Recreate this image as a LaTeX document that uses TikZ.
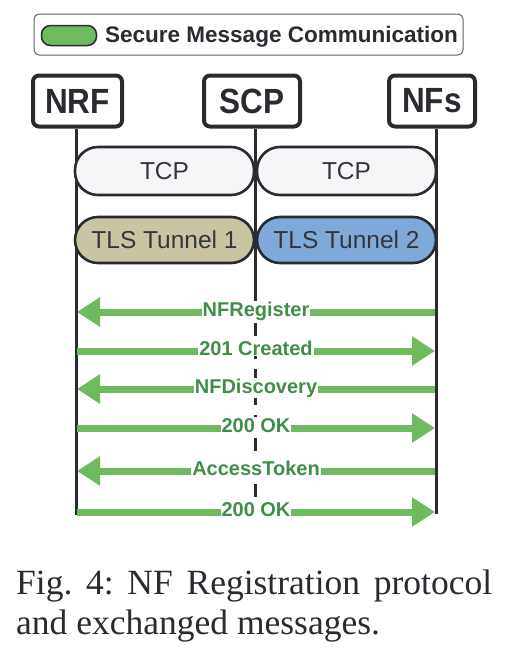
\documentclass[tikz,border=0pt]{standalone}
\usepackage{fontspec}
\setmainfont{Liberation Serif}
\newfontfamily\arialf{Liberation Sans}
\usetikzlibrary{arrows.meta}
\frenchspacing
\definecolor{ink}{HTML}{2A2B31}
\definecolor{msggreen}{HTML}{6DBB5E}
\definecolor{lblgreen}{HTML}{3F8F48}
\definecolor{tcpfill}{HTML}{F5F6F8}
\definecolor{tlsone}{HTML}{C9C5A4}
\definecolor{tlstwo}{HTML}{7EAAD9}
\tikzset{
  actor/.style={draw=ink, line width=4pt, rounded corners=6pt, fill=white, inner sep=0pt},
  lifeline/.style={draw=ink, line width=3pt},
  layerbox/.style={draw=ink, line width=2.6pt, rounded corners=23pt, inner sep=0pt},
  layertext/.style={font=\arialf\fontsize{24.5}{26}\selectfont, text=ink!95},
  msg/.style={draw=msggreen, line width=7pt, -{Triangle[length=23pt,width=28pt]}},
  msglabel/.style={font=\arialf\bfseries\fontsize{20}{22}\selectfont, text=lblgreen, fill=white, inner sep=1pt, anchor=base},
  actortext/.style={font=\arialf\bfseries\fontsize{35}{36}\selectfont, text=ink},
}
\begin{document}
\begin{tikzpicture}[x=1pt,y=-1pt]
\useasboundingbox (0,0) rectangle (528,656);
% legend
\draw[draw=ink!75, line width=1pt, rounded corners=5pt] (34,14) rectangle (463,55);
\node[draw=ink, line width=1.5pt, fill=msggreen, rounded corners=9pt, minimum width=55pt, minimum height=20pt, inner sep=0pt] (legpill) at (69,35.5) {};
\node[font=\arialf\bfseries\fontsize{22.5}{24}\selectfont, text=ink, anchor=west, inner sep=0pt] (legtext) at (105,37) {Secure Message Communication};
% actors
\node[actor, minimum width=89pt, minimum height=51pt] (nrf) at (77.5,101) {};
\node[actortext] at (nrf.center) {\scalebox{0.9}[1]{NRF}};
\node[actor, minimum width=96pt, minimum height=51pt] (scp) at (252,101) {};
\node[actortext] at (scp.center) {\scalebox{0.9}[1]{SCP}};
\node[actor, minimum width=86pt, minimum height=51pt] (nfs) at (432,101) {};
\node[actortext] at (nfs.center) {\scalebox{0.9}[1]{NFs}};
% lifelines
\coordinate (nrfend) at (76,515);
\coordinate (nfsend) at (436,514);
\coordinate (scpmid) at (255,300);
\coordinate (scpend) at (255,502);
\draw[lifeline] (nrf.south -| nrfend) -- (nrfend);
\draw[lifeline] (nfs.south -| nfsend) -- (nfsend);
\draw[lifeline] (scp.south -| scpmid) -- (scpmid);
\draw[lifeline, dash pattern=on 13pt off 10pt] (scpmid) -- (scpend);
% layers
\node[layerbox, fill=tcpfill, minimum width=179pt, minimum height=48pt] (tcp1) at (164.5,171) {};
\node[layertext] at (tcp1.center) {TCP};
\node[layerbox, fill=tcpfill, minimum width=179pt, minimum height=48pt] (tcp2) at (346.5,171) {};
\node[layertext] at (tcp2.center) {TCP};
\node[layerbox, fill=tlsone, minimum width=179pt, minimum height=46pt] (tls1) at (164.5,240) {};
\node[layertext] at (tls1.center) {TLS Tunnel 1};
\node[layerbox, fill=tlstwo, minimum width=179pt, minimum height=46pt] (tls2) at (346.5,240) {};
\node[layertext] at (tls2.center) {TLS Tunnel 2};
% messages
\coordinate (l1) at (77,312);  \coordinate (r1) at (435,312);
\coordinate (l2) at (77,351);  \coordinate (r2) at (435,351);
\coordinate (l3) at (77,389);  \coordinate (r3) at (435,389);
\coordinate (l4) at (77,428);  \coordinate (r4) at (435,428);
\coordinate (l5) at (77,471);  \coordinate (r5) at (435,471);
\coordinate (l6) at (77,512);  \coordinate (r6) at (435,512);
\draw[msg] (r1) -- (l1);
\draw[msg] (l2) -- (r2);
\draw[msg] (r3) -- (l3);
\draw[msg] (l4) -- (r4);
\draw[msg] (r5) -- (l5);
\draw[msg] (l6) -- (r6);
\node[msglabel] (m1) at (256,316) {NFRegister};
\node[msglabel] (m2) at (256,355) {201 Created};
\node[msglabel] (m3) at (256,393) {NFDiscovery};
\node[msglabel] (m4) at (256,432) {200 OK};
\node[msglabel] (m5) at (256,475) {AccessToken};
\node[msglabel] (m6) at (256,516) {200 OK};
% caption
\node[anchor=base west, inner sep=0pt, text=ink, font=\fontsize{35.5}{40}\selectfont] (cap1) at (16,594) {\makebox[476pt][s]{Fig. 4: NF Registration protocol}};
\node[anchor=base west, inner sep=0pt, text=ink, font=\fontsize{35.5}{40}\selectfont] (cap2) at (16,634) {and exchanged messages.};
\end{tikzpicture}
\end{document}
